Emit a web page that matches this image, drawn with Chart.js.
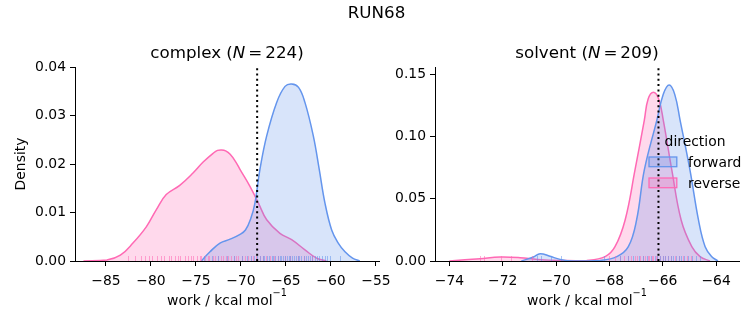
<!DOCTYPE html>
<html>
<head>
<meta charset="utf-8">
<script src="https://cdn.jsdelivr.net/npm/chart.js@4.4.0/dist/chart.umd.min.js"></script>
<style>
  html, body { margin: 0; padding: 0; background: #fff; }
  #wrap { position: relative; width: 753px; height: 325px; }
  #wrap canvas { position: absolute; left: 0; top: 0; }
</style>
</head>
<body>
<div id="wrap">
  <canvas id="complexChart" width="753" height="325"></canvas>
  <canvas id="solventChart" width="753" height="325"></canvas>
</div>
<script>
// ---- data ----
const complexFwdX = [-74.4, -73.44, -72.33, -71.2, -70.1, -69.5, -68.9, -68.44, -67.89, -67.14, -66.03, -65.1, -64.37, -63.6, -62.89, -61.96, -61.3, -60.67, -59.92, -59.19, -58.44, -57.6, -56.8];
const complexFwdY = [0, 0.0019, 0.0037, 0.0045, 0.0055, 0.0064, 0.0088, 0.012, 0.0189, 0.0258, 0.0327, 0.0360, 0.0365, 0.0358, 0.0327, 0.0258, 0.0189, 0.012, 0.0064, 0.0037, 0.0019, 0.0006, 0];
const complexRevX = [-87.5, -84.9, -83.4, -82.0, -80.5, -79.4, -78.3, -76.8, -75.3, -74.2, -73.1, -72.6, -72.14, -71.7, -71.2, -70.6, -70.11, -69.0, -68.07, -67.14, -65.67, -64.37, -62.89, -61.6, -60.5];
const complexRevY = [0, 0.0002, 0.0012, 0.0037, 0.0071, 0.0106, 0.0137, 0.0156, 0.0182, 0.0204, 0.0222, 0.0228, 0.0229, 0.0227, 0.0220, 0.0205, 0.0189, 0.0154, 0.012, 0.0085, 0.0057, 0.0044, 0.0023, 0.0006, 0];

const solventFwdX = [-71.3, -70.85, -70.6, -70.23, -69.85, -69.35, -68.35, -67.72, -67.29, -66.98, -66.69, -66.22, -65.98, -65.76, -65.55, -65.35, -64.98, -64.66, -64.41, -64.16, -63.93];
const solventFwdY = [0, 0.0032, 0.0059, 0.0038, 0.0013, 0, 0.0005, 0.0035, 0.0115, 0.033, 0.0732, 0.1133, 0.134, 0.1415, 0.134, 0.1133, 0.0732, 0.033, 0.0115, 0.0035, 0];
const solventRevX = [-74.0, -72.85, -72.1, -71.35, -70.7, -69.85, -68.85, -68.16, -67.79, -67.41, -67.04, -66.69, -66.55, -66.35, -66.15, -65.98, -65.66, -65.31, -64.91, -64.6, -64.23];
const solventRevY = [0, 0.0019, 0.0032, 0.0027, 0.0013, 0.0005, 0.0005, 0.0035, 0.0115, 0.033, 0.0732, 0.1133, 0.130, 0.1356, 0.130, 0.1133, 0.0732, 0.033, 0.0115, 0.0035, 0];

// individual work values (rug)
const complexRugFwd = [-74.1, -73.2, -72.5, -71.6, -70.8, -69.9, -69.3, -68.9, -68.5, -68.2, -67.9, -67.6, -67.4, -67.1, -66.9, -66.6, -66.4, -66.2, -65.9, -65.7, -65.5, -65.3, -65.1, -64.9, -64.7, -64.5, -64.3, -64.1, -63.9, -63.7, -63.5, -63.3, -63.0, -62.8, -62.6, -62.3, -62.1, -61.8, -61.5, -61.3, -61.0, -60.7, -60.4, -60.1, -59.0];
const complexRugRev = [-82.6, -81.8, -81.1, -80.7, -80.2, -79.9, -79.3, -78.9, -78.6, -78.0, -77.8, -77.3, -77.0, -76.8, -76.2, -75.9, -75.5, -75.3, -74.9, -74.6, -74.4, -74.0, -73.7, -73.5, -73.1, -72.9, -72.6, -72.2, -72.0, -71.7, -71.4, -71.1, -70.8, -70.5, -70.3, -69.9, -69.6, -69.2, -68.9, -68.7, -68.3, -67.9, -67.6, -67.2, -66.8, -66.3, -65.9, -65.1, -64.6, -63.7, -63.0, -62.1];
const solventRugFwd = [-70.72, -70.55, -70.2, -69.8, -68.2, -67.6, -67.3, -67.1, -66.9, -66.75, -66.6, -66.45, -66.3, -66.2, -66.1, -66.0, -65.9, -65.8, -65.7, -65.6, -65.5, -65.4, -65.3, -65.2, -65.05, -64.9, -64.75, -64.6];
const solventRugRev = [-72.85, -72.7, -72.05, -71.7, -70.9, -68.0, -67.8, -67.6, -67.45, -67.3, -67.2, -67.05, -66.95, -66.85, -66.75, -66.65, -66.55, -66.5, -66.4, -66.35, -66.25, -66.2, -66.1, -66.0, -65.9, -65.8, -65.7, -65.55, -65.4, -65.25, -65.1, -64.95];

// dotted reference lines
const complexMark = -68.2;
const solventMark = -66.16;

const directionLabels = ['forward', 'reverse'];

// ---- style ----
const FONT = '"DejaVu Sans", sans-serif';
const BLUE = 'rgb(100, 149, 237)';
const PINK = 'rgb(255, 105, 180)';
const BLUE_FILL = 'rgba(100, 149, 237, 0.25)';
const PINK_FILL = 'rgba(255, 105, 180, 0.25)';
const BLUE_RUG = 'rgba(100, 149, 237, 0.55)';
const PINK_RUG = 'rgba(255, 105, 180, 0.55)';

function minus(v) {
    return String(v).replace('-', '\u2212');
}

function kdeDataset(xs, ys, color, fillColor) {
    return {
        data: xs.map((x, i) => ({ x: x, y: ys[i] })),
        borderColor: color,
        backgroundColor: fillColor,
        borderWidth: 1.5,
        pointRadius: 0,
        showLine: true,
        fill: 'origin',
        tension: 0.4
    };
}

// title with italic N, mimicking mathtext spacing
function drawNTitle(ctx, cx, y, pre, num) {
    const size = 16.7;
    const gap = 3;
    const roman = size + 'px ' + FONT;
    const ital = 'italic ' + size + 'px ' + FONT;
    ctx.save();
    ctx.fillStyle = '#000';
    ctx.textBaseline = 'alphabetic';
    ctx.textAlign = 'left';
    ctx.font = roman;
    const w1 = ctx.measureText(pre).width;
    const wEq = ctx.measureText('=').width;
    const wNum = ctx.measureText(num).width;
    ctx.font = ital;
    const wN = ctx.measureText('N').width;
    let x = cx - (w1 + wN + gap + wEq + gap + wNum) / 2;
    ctx.font = roman;
    ctx.fillText(pre, x, y);
    x += w1;
    ctx.font = ital;
    ctx.fillText('N', x, y);
    x += wN + gap;
    ctx.font = roman;
    ctx.fillText('=', x, y);
    x += wEq + gap;
    ctx.fillText(num, x, y);
    ctx.restore();
}

function drawWorkLabel(ctx, cx, y) {
    ctx.save();
    ctx.fillStyle = '#000';
    ctx.textBaseline = 'alphabetic';
    ctx.textAlign = 'left';
    ctx.font = '13.9px ' + FONT;
    const main = 'work / kcal mol';
    const w1 = ctx.measureText(main).width;
    ctx.font = '9.7px ' + FONT;
    const w2 = ctx.measureText('\u22121').width;
    const x = cx - (w1 + w2) / 2;
    ctx.font = '13.9px ' + FONT;
    ctx.fillText(main, x, y);
    ctx.font = '9.7px ' + FONT;
    ctx.fillText('\u22121', x + w1, y - 9);
    ctx.restore();
}

function makePanelPlugin(cfg) {
    return {
        id: 'panelDecor',
        afterDatasetsDraw(chart) {
            const { ctx, chartArea } = chart;
            const xs = chart.scales.x;
            // rug ticks
            cfg.rugs.forEach(r => {
                ctx.save();
                ctx.strokeStyle = r.color;
                ctx.lineWidth = 1;
                r.values.forEach(v => {
                    const px = Math.round(xs.getPixelForValue(v)) + 0.5;
                    ctx.beginPath();
                    ctx.moveTo(px, chartArea.bottom);
                    ctx.lineTo(px, chartArea.bottom - 5);
                    ctx.stroke();
                });
                ctx.restore();
            });
            // dotted vertical line
            const mx = xs.getPixelForValue(cfg.mark);
            ctx.save();
            ctx.strokeStyle = '#000';
            ctx.lineWidth = 2;
            ctx.setLineDash([2, 3.3]);
            ctx.beginPath();
            ctx.moveTo(mx, chartArea.bottom);
            ctx.lineTo(mx, chartArea.top);
            ctx.stroke();
            ctx.restore();
        },
        afterDraw(chart) {
            const { ctx, chartArea } = chart;
            const cx = (chartArea.left + chartArea.right) / 2;
            drawNTitle(ctx, cx, 58, cfg.titlePre, cfg.titleNum);
            drawWorkLabel(ctx, cx, 305);

            if (cfg.yLabel) {
                ctx.save();
                ctx.fillStyle = '#000';
                ctx.font = '13.9px ' + FONT;
                ctx.textAlign = 'center';
                ctx.textBaseline = 'alphabetic';
                ctx.translate(25, (chartArea.top + chartArea.bottom) / 2);
                ctx.rotate(-Math.PI / 2);
                ctx.fillText(cfg.yLabel, 0, 0);
                ctx.restore();
            }
            if (cfg.suptitle) {
                ctx.save();
                ctx.fillStyle = '#000';
                ctx.font = '16.7px ' + FONT;
                ctx.textAlign = 'center';
                ctx.textBaseline = 'alphabetic';
                ctx.fillText(cfg.suptitle, 376.5, 18);
                ctx.restore();
            }
            if (cfg.legend) {
                ctx.save();
                ctx.fillStyle = '#000';
                ctx.font = '13.9px ' + FONT;
                ctx.textAlign = 'center';
                ctx.textBaseline = 'alphabetic';
                ctx.fillText('direction', 695, 146);
                const colors = [[BLUE_FILL, BLUE], [PINK_FILL, PINK]];
                directionLabels.forEach((lab, i) => {
                    const top = 157 + i * 21;
                    ctx.fillStyle = colors[i][0];
                    ctx.fillRect(649, top, 27.8, 9.7);
                    ctx.strokeStyle = colors[i][1];
                    ctx.lineWidth = 1.3;
                    ctx.strokeRect(649, top, 27.8, 9.7);
                    ctx.fillStyle = '#000';
                    ctx.textAlign = 'left';
                    ctx.fillText(lab, 688, top + 9.5);
                });
                ctx.restore();
            }
        }
    };
}

function xScale(min, max, step) {
    return {
        type: 'linear',
        min: min,
        max: max,
        border: { display: true, color: '#000', width: 1 },
        grid: { drawOnChartArea: false, drawTicks: true, tickLength: 5, color: '#000', lineWidth: 1 },
        ticks: {
            stepSize: step, includeBounds: false, autoSkip: false, maxRotation: 0,
            color: '#000', font: { family: FONT, size: 13.9 }, padding: 7,
            callback: v => minus(v)
        },
        afterFit: s => { s.height = 64; s.paddingLeft = 0; s.paddingRight = 0; }
    };
}

function yScale(max, step, width) {
    return {
        type: 'linear',
        min: 0,
        max: max,
        border: { display: true, color: '#000', width: 1 },
        grid: { drawOnChartArea: false, drawTicks: true, tickLength: 5, color: '#000', lineWidth: 1 },
        ticks: {
            stepSize: step, includeBounds: false, autoSkip: false,
            color: '#000', font: { family: FONT, size: 13.9 }, padding: 4,
            callback: v => v.toFixed(2)
        },
        afterFit: s => { s.width = width; s.paddingTop = 0; s.paddingBottom = 0; }
    };
}

function baseOptions(padding, xs, ys) {
    return {
        responsive: false,
        animation: false,
        events: [],
        devicePixelRatio: 1,
        layout: { padding: padding },
        plugins: { legend: { display: false }, tooltip: { enabled: false } },
        scales: { x: xs, y: ys }
    };
}

// left panel: complex
new Chart(document.getElementById('complexChart'), {
    type: 'scatter',
    data: {
        datasets: [
            kdeDataset(complexFwdX, complexFwdY, BLUE, BLUE_FILL),
            kdeDataset(complexRevX, complexRevY, PINK, PINK_FILL)
        ]
    },
    options: baseOptions({ left: 0, top: 67, right: 753 - 379, bottom: 0 },
        xScale(-88.44, -54.66, 5), yScale(0.04, 0.01, 75)),
    plugins: [makePanelPlugin({
        mark: complexMark,
        rugs: [{ values: complexRugRev, color: PINK_RUG }, { values: complexRugFwd, color: BLUE_RUG }],
        titlePre: 'complex (', titleNum: '224)',
        yLabel: 'Density',
        suptitle: 'RUN68'
    })]
});

// right panel: solvent
new Chart(document.getElementById('solventChart'), {
    type: 'scatter',
    data: {
        datasets: [
            kdeDataset(solventFwdX, solventFwdY, BLUE, BLUE_FILL),
            kdeDataset(solventRevX, solventRevY, PINK, PINK_FILL)
        ]
    },
    options: baseOptions({ left: 380, top: 67, right: 753 - 739, bottom: 0 },
        xScale(-74.54, -63.14, 2), yScale(0.156, 0.05, 55)),
    plugins: [makePanelPlugin({
        mark: solventMark,
        rugs: [{ values: solventRugRev, color: PINK_RUG }, { values: solventRugFwd, color: BLUE_RUG }],
        titlePre: 'solvent (', titleNum: '209)',
        legend: true
    })]
});
</script>
</body>
</html>
